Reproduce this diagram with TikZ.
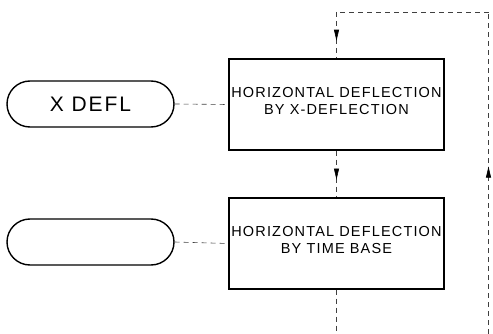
\documentclass[tikz,border=0pt]{standalone}
\usepackage{fontspec}
\setmainfont{Liberation Sans}
\newfontfamily\boxfont[LetterSpace=8]{Liberation Sans}
\newfontfamily\termfont[LetterSpace=9]{Liberation Sans}
\usetikzlibrary{arrows.meta,decorations.markings}
\begin{document}
\begin{tikzpicture}[x=1pt,y=-1pt,
  procbox/.style={draw,line width=1.4pt,minimum width=215pt,minimum height=91pt,
    inner sep=0pt,align=center},
  boxtext/.style={align=center,inner sep=0pt,font=\boxfont\fontsize{14.5}{17}\selectfont},
  termbox/.style={draw,line width=1.4pt,minimum width=167pt,minimum height=46pt,
    rounded corners=23pt,inner sep=0pt,font=\termfont\fontsize{21}{24}\selectfont},
  link/.style={draw=black!75,line width=0.6pt,dash pattern=on 5pt off 4pt},
  arrowat/.style={postaction={decorate},decoration={markings,
    mark=at position #1 with {\arrow[black]{Triangle[length=11pt,width=5pt]}}}}
]
\useasboundingbox (0,0) rectangle (493,334);
\node[procbox] (b1) at (336.5,104.5) {};
\node[procbox] (b2) at (336.5,243.5) {};
\node[boxtext] (l1) at (336.5,101.5) {HORIZONTAL DEFLECTION\\BY X-DEFLECTION};
\node[boxtext] (l2) at (336.5,240) {HORIZONTAL DEFLECTION\\BY TIME BASE};
\node[termbox] (t1) at (90.5,104) {X DEFL};
\node[termbox] (t2) at (90.5,242) {};
\coordinate (tl) at (336.5,12);
\coordinate (tr) at (488.5,12);
\coordinate (br) at (488.5,334);
\coordinate (bl) at (336.5,334);
\draw[link] (t1.east) -- (b1.west);
\draw[link] (t2.east) -- (b2.west);
\draw[link,arrowat=0.62] (b1.south) -- (b2.north);
\draw[link] (b2.south) -- (bl);
\draw[link,arrowat=0.52] (br) -- (tr);
\draw[link] (tr) -- (tl);
\draw[link,arrowat=0.62] (tl) -- (b1.north);
\end{tikzpicture}
\end{document}
